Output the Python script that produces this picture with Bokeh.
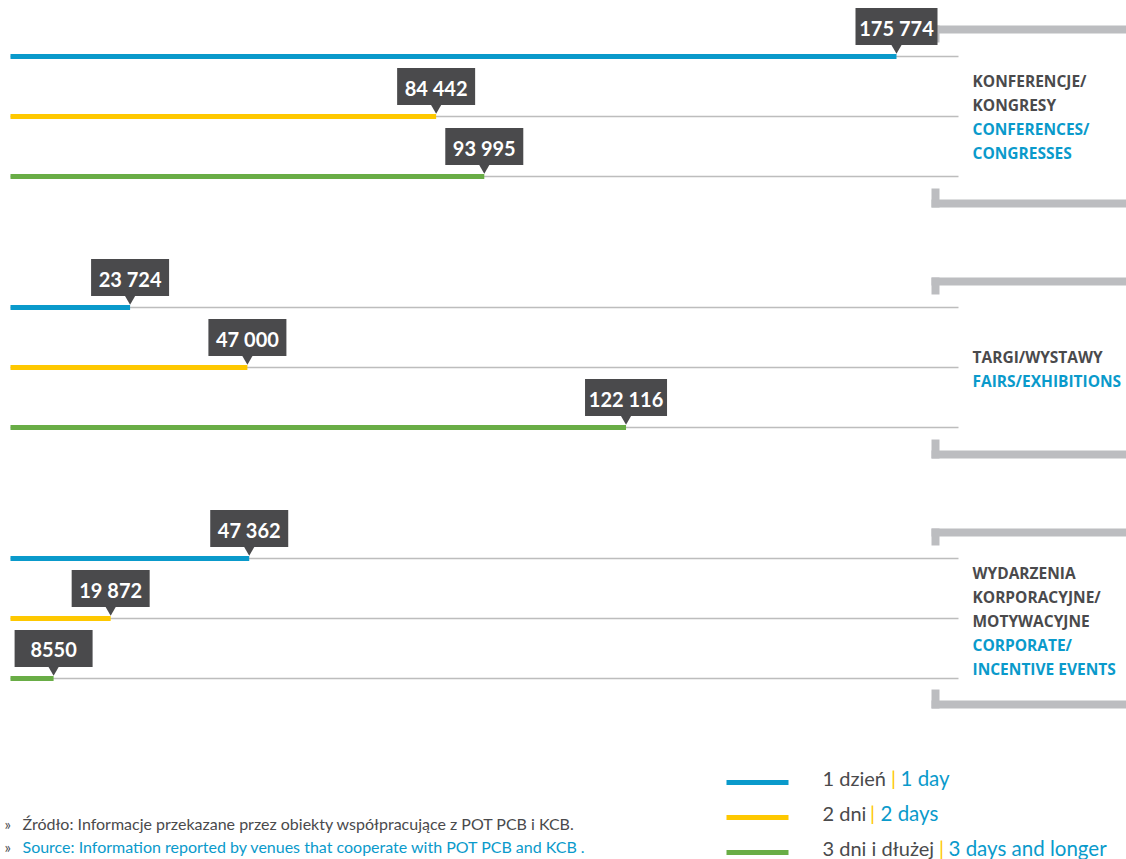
from bokeh.plotting import figure
from bokeh.models import Range1d
from bokeh.core.properties import value
from bokeh.embed import file_html
from bokeh.resources import INLINE

# ---- data ----
categories = ["Konferencje/Kongresy", "Targi/Wystawy", "Wydarzenia korporacyjne/motywacyjne"]
series = ["1 dzień | 1 day", "2 dni | 2 days", "3 dni i dłużej | 3 days and longer"]
conferences = [175774, 84442, 93995]
fairs = [23724, 47000, 122116]
corporate = [47362, 19872, 8550]

cat_pl = [["KONFERENCJE/", "KONGRESY"], ["TARGI/WYSTAWY"], ["WYDARZENIA", "KORPORACYJNE/", "MOTYWACYJNE"]]
cat_en = [["CONFERENCES/", "CONGRESSES"], ["FAIRS/EXHIBITIONS"], ["CORPORATE/", "INCENTIVE EVENTS"]]
legend_pl = ["1 dzień", "2 dni", "3 dni i dłużej"]
legend_en = ["1 day", "2 days", "3 days and longer"]
source_pl = "Źródło: Informacje przekazane przez obiekty współpracujące z POT PCB i KCB."
source_en = "Source: Information reported by venues that cooperate with POT PCB and KCB ."

# ---- style ----
BLUE = "#0a9acb"
YELLOW = "#fec800"
GREEN = "#69ad46"
DARK = "#4a4a4c"
GRAY_BR = "#bcbdc0"
GRAY_LN = "#bdbdbd"
colors = [BLUE, YELLOW, GREEN]

W, H = 1126, 859
OFF = 0
K = 886 / 175774.0  # px per unit


def X(px):  # picture px -> data x
    return (px - 10) / K


def Y(py):  # picture px -> figure y
    return py - OFF


p = figure(width=W, height=H, output_backend="svg", toolbar_location=None,
           x_range=Range1d(X(OFF), X(OFF + W)), y_range=Range1d(H, 0),
           min_border=0, outline_line_color=None)
p.axis.visible = False
p.grid.visible = False
p.background_fill_color = "white"

def fmt(v):
    return f"{v:,}".replace(",", " ") if v >= 10000 else str(v)

groups = [conferences, fairs, corporate]
group_top = [56, 307, 558]
row_gap = 60
brk_top = [29, 281, 532]
brk_bot = [203, 454, 704]
label_top = [80, 356, 572]

# brackets
for t, b in zip(brk_top, brk_bot):
    p.quad(left=[X(931)], right=[X(1130)], bottom=[Y(t + 4)], top=[Y(t - 4)],
           fill_color=GRAY_BR, line_color=None)
    p.quad(left=[X(931)], right=[X(939)], bottom=[Y(t + 13)], top=[Y(t - 4)],
           fill_color=GRAY_BR, line_color=None)
    p.quad(left=[X(931)], right=[X(1130)], bottom=[Y(b + 4)], top=[Y(b - 4)],
           fill_color=GRAY_BR, line_color=None)
    p.quad(left=[X(931)], right=[X(939)], bottom=[Y(b + 4)], top=[Y(b - 15)],
           fill_color=GRAY_BR, line_color=None)

for gi, vals in enumerate(groups):
    ys = [Y(group_top[gi] + i * row_gap) for i in range(3)]
    p.segment(x0=[0] * 3, x1=[X(958)] * 3, y0=ys, y1=ys, line_color=GRAY_LN, line_width=1.5)
    p.hbar(y=ys, left=[0] * 3, right=vals, height=5, fill_color=colors, line_color=None)
    labels = [fmt(v) for v in vals]
    widths = [82 if len(s) > 6 else 78 for s in labels]
    p.rect(x=vals, y=[y - 30 for y in ys], width=widths, height=37,
           width_units="screen", height_units="screen", fill_color=DARK, line_color=None)
    p.scatter(x=vals, y=[y - 9 for y in ys], marker="inverted_triangle", size=11,
              fill_color=DARK, line_color=None)
    p.text(x=vals, y=[y - 29 for y in ys], text=labels, text_align="center",
           text_baseline="middle", text_font=value("Lato"), text_font_style="bold",
           text_font_size="20px", text_color="white")

    # category labels
    lines = cat_pl[gi] + cat_en[gi]
    cols = [DARK] * len(cat_pl[gi]) + [BLUE] * len(cat_en[gi])
    ly = [Y(label_top[gi] + 24 * i) for i in range(len(lines))]
    p.text(x=[X(972)] * len(lines), y=ly, text=lines, text_color=cols,
           text_align="left", text_baseline="middle", text_font=value("Open Sans"),
           text_font_style="bold", text_font_size="15.5px")

# legend
leg_y = [777, 812, 847]
bar_x = [889, 868, 937]
en_x = [900, 880, 948]
for i in range(3):
    y = Y(leg_y[i] + 5)
    p.segment(x0=[X(726)], x1=[X(788)], y0=[y], y1=[y], line_color=colors[i], line_width=5)
    p.text(x=[X(822)], y=[Y(leg_y[i])], text=[legend_pl[i]], text_color=DARK,
           text_baseline="middle", text_font=value("Lato"), text_font_size="20px")
    p.text(x=[X(bar_x[i] + 4)], y=[Y(leg_y[i])], text=["|"], text_color=YELLOW, text_align="center",
           text_baseline="middle", text_font=value("Lato"), text_font_size="20px")
    p.text(x=[X(en_x[i])], y=[Y(leg_y[i])], text=[legend_en[i]], text_color=BLUE,
           text_baseline="middle", text_font=value("Lato"), text_font_size="20.5px")

# source
for txt, col, yy in [(source_pl, DARK, 823), (source_en, BLUE, 846)]:
    p.text(x=[X(4)], y=[Y(yy)], text=["»"], text_color=DARK, text_baseline="middle",
           text_font=value("Lato"), text_font_size="15px")
    p.text(x=[X(22)], y=[Y(yy)], text=[txt], text_color=col, text_baseline="middle",
           text_font=value("Lato"), text_font_size="16px")

open("out.html", "w").write(file_html(p, INLINE))
